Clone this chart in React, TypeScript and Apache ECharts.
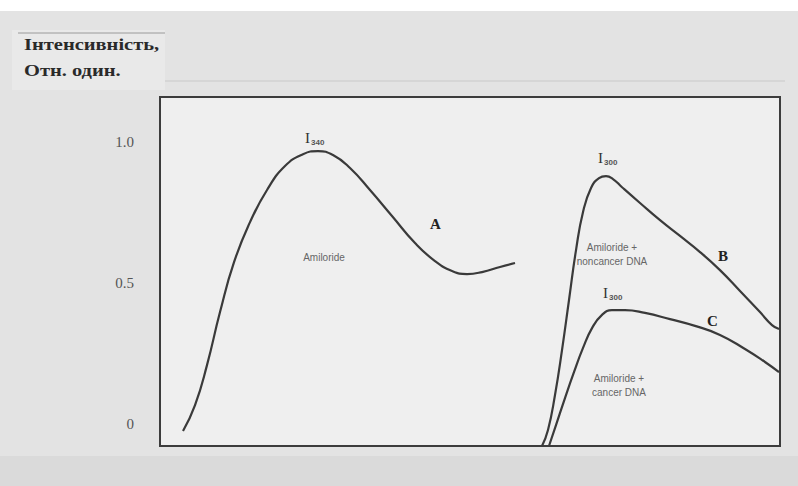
import React, { useEffect, useRef } from "react";
import * as echarts from "echarts";

// Curve A: Amiloride alone (x: arbitrary wavelength units 0..100, y: relative intensity)
const curveAX = [3.71, 5.65, 7.58, 9.68, 11.94, 14.52, 17.26, 20.16, 23.06, 25.48, 27.9, 30.65, 33.87, 37.42, 41.13, 44.35, 47.1, 49.52, 51.94, 54.84, 57.26];
const curveAY = [-0.025, 0.067, 0.209, 0.397, 0.574, 0.716, 0.83, 0.915, 0.957, 0.968, 0.954, 0.908, 0.83, 0.738, 0.642, 0.578, 0.543, 0.532, 0.539, 0.557, 0.571];

// Curve B: Amiloride + noncancer DNA
const curveBX = [61.61, 62.58, 63.71, 64.84, 65.97, 67.1, 68.23, 69.52, 70.81, 71.94, 73.06, 74.52, 77.42, 80.65, 83.87, 87.1, 90.32, 93.55, 96.77, 98.71, 99.84];
const curveBY = [-0.078, -0.021, 0.103, 0.262, 0.44, 0.617, 0.752, 0.837, 0.872, 0.879, 0.869, 0.84, 0.784, 0.723, 0.667, 0.61, 0.546, 0.472, 0.397, 0.351, 0.337];

// Curve C: Amiloride + cancer DNA
const curveCX = [62.74, 63.87, 65.32, 66.77, 68.23, 69.68, 71.29, 72.9, 75.0, 78.23, 82.26, 86.29, 90.32, 94.35, 97.58, 99.84];
const curveCY = [-0.078, -0.004, 0.092, 0.184, 0.27, 0.34, 0.387, 0.404, 0.404, 0.394, 0.372, 0.348, 0.316, 0.266, 0.22, 0.184];

const yTickValues = [0, 0.5, 1.0];
const yTickLabels = ["0", "0.5", "1.0"];

const titleLines = ["Інтенсивність,", "Отн. один."];
const curveNames = ["A", "B", "C"];
const peakLabels = ["340", "300", "300"];
const sampleLabels = ["Amiloride", "Amiloride +\nnoncancer DNA", "Amiloride +\ncancer DNA"];

function zip(xs: number[], ys: number[]) {
  return xs.map((x, i) => [x, ys[i]]);
}

export default function App() {
  const ref = useRef<HTMLDivElement>(null);
  useEffect(() => {
    if (!ref.current) return;
    const chart = echarts.init(ref.current, null, { renderer: "svg" });
    const serif = "'Liberation Serif', 'DejaVu Serif', serif";
    const lineStyle = { color: "#3a3a3a", width: 2.2 };
    const mkSeries = (name: string, xs: number[], ys: number[]) => ({
      name,
      type: "line",
      data: zip(xs, ys),
      smooth: 0.5,
      symbol: "none",
      lineStyle,
      clip: true,
    });
    const peak = (sub: string, left: number, top: number) => ({
      type: "text",
      left,
      top,
      style: {
        text: "{i|I}{s|" + sub + "}",
        rich: {
          i: { fontFamily: serif, fontSize: 15, fill: "#333" },
          s: { fontFamily: "Liberation Sans, sans-serif", fontSize: 8, fontWeight: "bold", fill: "#555", padding: [10, 0, 0, 1] },
        },
      },
    });
    const small = (text: string, x: number, y: number) => ({
      type: "text",
      x,
      y,
      style: {
        text,
        fontFamily: "'Liberation Sans', Arial, sans-serif",
        fontSize: 10,
        fill: "#666",
        align: "center",
        verticalAlign: "top",
        lineHeight: 14,
      },
    });
    const big = (text: string, left: number, top: number) => ({
      type: "text",
      left,
      top,
      style: { text, fontFamily: serif, fontSize: 15, fontWeight: "bold", fill: "#222" },
    });
    const title = (text: string, y: number) => ({
      type: "text",
      x: 24,
      y,
      scaleX: 1.28,
      style: { text, fontFamily: serif, fontSize: 16, fontWeight: "bold", fill: "#2a2a2a" },
    });
    chart.setOption({
      animation: false,
      backgroundColor: "#e3e3e3",
      grid: {
        left: 160,
        top: 97,
        right: 18,
        bottom: 40,
        show: true,
        backgroundColor: "#efefef",
        borderColor: "#3c3c3c",
        borderWidth: 2,
      },
      xAxis: {
        type: "value",
        min: 0,
        max: 100,
        axisLine: { show: false },
        axisTick: { show: false },
        axisLabel: { show: false },
        splitLine: { show: false },
      },
      yAxis: {
        type: "value",
        min: -0.078,
        max: 1.16,
        axisLine: { show: false },
        axisTick: { show: false },
        splitLine: { show: false },
        axisLabel: {
          customValues: yTickValues,
          margin: 26,
          fontFamily: serif,
          fontSize: 15,
          color: "#555",
          formatter: (v: number) => {
            const i = yTickValues.findIndex((t) => Math.abs(t - v) < 1e-6);
            return i >= 0 ? yTickLabels[i] : "";
          },
        },
      },
      graphic: [
        { type: "rect", shape: { x: 0, y: 0, width: 798, height: 11 }, style: { fill: "#ffffff" }, silent: true },
        { type: "rect", shape: { x: 0, y: 456, width: 798, height: 30 }, style: { fill: "#dadada" }, silent: true },
        { type: "rect", shape: { x: 12, y: 30, width: 153, height: 60 }, style: { fill: "#e9e9e9" }, silent: true },
        { type: "line", shape: { x1: 18, y1: 33, x2: 165, y2: 33 }, style: { stroke: "#9a9a9a", lineWidth: 1 }, silent: true },
        { type: "line", shape: { x1: 165, y1: 81, x2: 785, y2: 81 }, style: { stroke: "#c9c9c9", lineWidth: 1 }, silent: true },
        title(titleLines[0], 37),
        title(titleLines[1], 63),
        peak(peakLabels[0], 305, 130),
        peak(peakLabels[1], 598, 150),
        peak(peakLabels[2], 603, 285),
        big(curveNames[0], 430, 216),
        big(curveNames[1], 718, 248),
        big(curveNames[2], 707, 313),
        small(sampleLabels[0], 324, 250),
        small(sampleLabels[1], 612, 240),
        small(sampleLabels[2], 619, 371),
      ],
      series: [
        mkSeries("A", curveAX, curveAY),
        mkSeries("B", curveBX, curveBY),
        mkSeries("C", curveCX, curveCY),
      ],
    });
    return () => chart.dispose();
  }, []);
  return (
    <div
      ref={ref}
      style={{ position: "fixed", left: 0, top: 0, width: 798, height: 486 }}
    />
  );
}
